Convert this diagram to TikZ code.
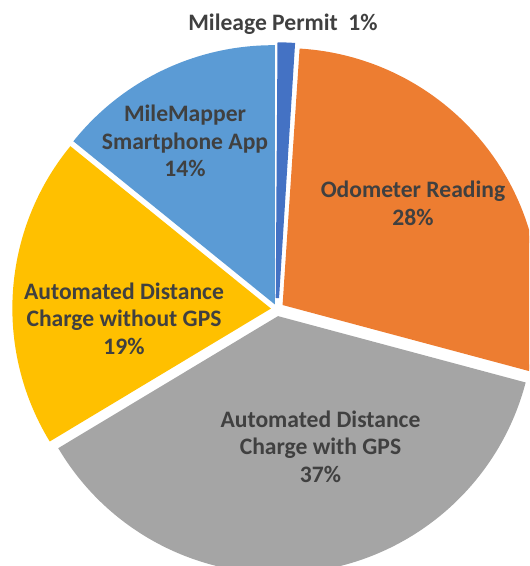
\documentclass[tikz,border=0pt]{standalone}
\usepackage{fontspec}
\setmainfont{Carlito}
\usepackage{tikz}
\usetikzlibrary{calc}
\definecolor{permitBlue}{RGB}{68,114,196}
\definecolor{odoOrange}{RGB}{237,125,49}
\definecolor{gpsGray}{RGB}{165,165,165}
\definecolor{nogpsGold}{RGB}{255,192,0}
\definecolor{appBlue}{RGB}{91,155,213}
\definecolor{pctext}{RGB}{64,64,64}

\begin{document}
\begin{tikzpicture}[x=0.75pt,y=0.75pt,
    slice/.style={draw=white, line width=2.5pt},
    pielabel/.style={text=pctext, align=center, inner sep=0pt,
        font=\fontsize{17.7}{20.6}\selectfont\bfseries}]
    \useasboundingbox (0,0) rectangle (529,566);
    \clip (0,0) rectangle (529,566);
    \coordinate (C) at (277,257);
    % slices, clockwise from the top, each pushed out along its middle
    \fill[slice, permitBlue] (C) ++(88:11) -- ++(86.4:254) arc[start angle=86.4, end angle=89.6, radius=254] -- cycle;
    \fill[slice, odoOrange] (C) ++(35.6:9) -- ++(-15:254) arc[start angle=-15, end angle=86.2, radius=254] -- cycle;
    \fill[slice, gpsGray] (C) ++(-82:9) -- ++(-149:254) arc[start angle=-149, end angle=-15, radius=254] -- cycle;
    \fill[slice, nogpsGold] (C) ++(176:9) -- ++(141:254) arc[start angle=141, end angle=211, radius=254] -- cycle;
    \fill[slice, appBlue] (C) ++(115.5:9) -- ++(90:254) arc[start angle=90, end angle=141, radius=254] -- cycle;
    % labels
    \node[pielabel, anchor=base] (permit) at (283,535.5) {Mileage Permit~ 1\%};
    \node[pielabel] (odo) at (413,362.5) {Odometer Reading\\28\%};
    \node[pielabel] (gps) at (320.5,119.5) {Automated Distance\\Charge with GPS\\37\%};
    \node[pielabel] (nogps) at (124,247.5) {Automated Distance\\Charge without GPS\\19\%};
    \node[pielabel] (app) at (185,425) {MileMapper\\Smartphone App\\14\%};
\end{tikzpicture}
\end{document}
